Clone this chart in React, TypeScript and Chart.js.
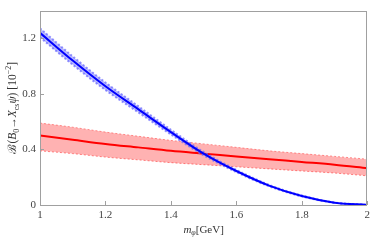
import React, { useEffect, useRef } from "react";
import { Chart, registerables } from "chart.js";

Chart.register(...registerables);

const masses = [1.0, 1.1, 1.2, 1.3, 1.4, 1.5, 1.6, 1.7, 1.8, 1.9, 2.0];
const blueCentral = [1.24, 1.04, 0.855, 0.69, 0.525, 0.37, 0.245, 0.14, 0.065, 0.017, 0];
const blueUpper = [1.272, 1.07, 0.882, 0.712, 0.542, 0.382, 0.253, 0.145, 0.068, 0.018, 0];
const blueLower = [1.208, 1.01, 0.828, 0.668, 0.508, 0.358, 0.237, 0.135, 0.062, 0.016, 0];
const redCentral = [0.5, 0.47, 0.44, 0.415, 0.39, 0.37, 0.35, 0.33, 0.31, 0.29, 0.265];
const redUpper = [0.59, 0.56, 0.525, 0.495, 0.465, 0.44, 0.415, 0.39, 0.37, 0.35, 0.33];
const redLower = [0.39, 0.37, 0.345, 0.325, 0.305, 0.29, 0.275, 0.26, 0.245, 0.23, 0.21];
const xTicks = [1, 1.2, 1.4, 1.6, 1.8, 2];
const yTicks = [0, 0.4, 0.8, 1.2];
const xTickLabels = ["1", "1.2", "1.4", "1.6", "1.8", "2"];
const yTickLabels = ["0", "0.4", "0.8", "1.2"];

const SERIF = "'Liberation Serif', 'Times New Roman', serif";

type Seg = { t: string; it?: boolean; sub?: boolean; sup?: boolean };

const yTitle: Seg[] = [
  { t: "\u212C(" },
  { t: "B", it: true },
  { t: "0", sub: true },
  { t: "\u2192" },
  { t: "X", it: true },
  { t: "cs", sub: true },
  { t: "\u03C8", it: true },
  { t: ") [10" },
  { t: "\u22122", sup: true },
  { t: "]" },
];
const xTitle: Seg[] = [
  { t: "m", it: true },
  { t: "\u03C6", it: true, sub: true },
  { t: "[GeV]" },
];

function drawRich(ctx: CanvasRenderingContext2D, segs: Seg[], cx: number, cy: number, angle: number, size: number) {
  ctx.save();
  ctx.translate(cx, cy);
  ctx.rotate(angle);
  ctx.fillStyle = "#333";
  ctx.textBaseline = "middle";
  ctx.textAlign = "left";
  const fontFor = (s: Seg) => {
    const sz = s.sub || s.sup ? Math.round(size * 0.7) : size;
    return `${s.it ? "italic " : ""}${sz}px ${SERIF}`;
  };
  let total = 0;
  const widths = segs.map((s) => {
    ctx.font = fontFor(s);
    const w = ctx.measureText(s.t).width;
    total += w;
    return w;
  });
  let x = -total / 2;
  segs.forEach((s, i) => {
    ctx.font = fontFor(s);
    const dy = s.sub ? size * 0.3 : s.sup ? -size * 0.35 : 0;
    ctx.fillText(s.t, x, dy);
    x += widths[i];
  });
  ctx.restore();
}

const framePlugin = {
  id: "framePlugin",
  afterDraw(chart: any) {
    const { ctx, chartArea } = chart;
    const { left, right, top, bottom } = chartArea;
    ctx.save();
    ctx.strokeStyle = "#a0a0a0";
    ctx.lineWidth = 1;
    ctx.strokeRect(Math.round(left) + 0.5, Math.round(top) + 0.5, Math.round(right - left) - 1, Math.round(bottom - top));
    const xs = chart.scales.x;
    const ys = chart.scales.y;
    ctx.beginPath();
    xTicks.forEach((v) => {
      const px = Math.round(xs.getPixelForValue(v)) + 0.5;
      ctx.moveTo(px, bottom);
      ctx.lineTo(px, bottom - 4);
    });
    yTicks.forEach((v) => {
      const py = Math.round(ys.getPixelForValue(v)) + 0.5;
      ctx.moveTo(left, py);
      ctx.lineTo(left + 4, py);
    });
    ctx.stroke();
    ctx.restore();
    drawRich(ctx, xTitle, (left + right) / 2, 230, 0, 11);
    drawRich(ctx, yTitle, 13, (top + bottom) / 2, -Math.PI / 2, 11.5);
  },
};

export default function App() {
  const ref = useRef<HTMLCanvasElement>(null);
  useEffect(() => {
    if (!ref.current) return;
    const pts = (arr: number[]) => masses.map((m, i) => ({ x: m, y: arr[i] }));
    const chart = new Chart(ref.current, {
      type: "line",
      data: {
        datasets: [
          {
            label: "blue",
            data: pts(blueCentral),
            borderColor: "rgb(0,0,255)",
            borderWidth: 2,
            pointRadius: 0,
            fill: false,
            cubicInterpolationMode: "monotone",
          },
          {
            label: "blueUp",
            data: pts(blueUpper),
            borderColor: "rgba(110,110,255,0.75)",
            borderWidth: 2,
            borderDash: [2, 2],
            backgroundColor: "rgba(80,80,255,0.4)",
            pointRadius: 0,
            fill: "+1",
            cubicInterpolationMode: "monotone",
          },
          {
            label: "blueLo",
            data: pts(blueLower),
            borderColor: "rgba(110,110,255,0.75)",
            borderWidth: 2,
            borderDash: [2, 2],
            pointRadius: 0,
            fill: false,
            cubicInterpolationMode: "monotone",
          },
          {
            label: "red",
            data: pts(redCentral),
            borderColor: "rgb(255,0,0)",
            borderWidth: 2,
            pointRadius: 0,
            fill: false,
            cubicInterpolationMode: "monotone",
          },
          {
            label: "redUp",
            data: pts(redUpper),
            borderColor: "rgba(255,110,110,0.8)",
            borderWidth: 1,
            borderDash: [2, 2],
            backgroundColor: "rgba(255,0,0,0.3)",
            pointRadius: 0,
            fill: "+1",
            cubicInterpolationMode: "monotone",
          },
          {
            label: "redLo",
            data: pts(redLower),
            borderColor: "rgba(255,110,110,0.8)",
            borderWidth: 1,
            borderDash: [2, 2],
            pointRadius: 0,
            fill: false,
            cubicInterpolationMode: "monotone",
          },
        ],
      },
      options: {
        animation: false,
        responsive: true,
        maintainAspectRatio: false,
        layout: { padding: { top: 1, right: 3, left: 0, bottom: 0 } },
        plugins: { legend: { display: false }, tooltip: { enabled: false } },
        scales: {
          x: {
            type: "linear",
            min: 1,
            max: 2,
            afterBuildTicks: (s: any) => {
              s.ticks = xTicks.map((v) => ({ value: v }));
            },
            afterFit: (s: any) => {
              s.height = 37;
            },
            grid: { display: false, drawTicks: false },
            border: { display: false },
            ticks: {
              padding: 4,
              color: "#444",
              font: { family: SERIF, size: 11 },
              maxRotation: 0,
              callback: (v: any) => xTickLabels[xTicks.indexOf(Number(v))] ?? "",
            },
          },
          y: {
            type: "linear",
            min: 0,
            max: 1.4,
            afterBuildTicks: (s: any) => {
              s.ticks = yTicks.map((v) => ({ value: v }));
            },
            afterFit: (s: any) => {
              s.width = 40;
            },
            grid: { display: false, drawTicks: false },
            border: { display: false },
            ticks: {
              padding: 4,
              color: "#444",
              font: { family: SERIF, size: 11 },
              callback: (v: any) => yTickLabels[yTicks.indexOf(Number(v))] ?? "",
            },
          },
        },
      },
      plugins: [framePlugin],
    });
    return () => chart.destroy();
  }, []);
  return (
    <div style={{ position: "fixed", left: 0, top: 0, width: 374, height: 242, background: "#fff" }}>
      <canvas ref={ref} />
    </div>
  );
}
